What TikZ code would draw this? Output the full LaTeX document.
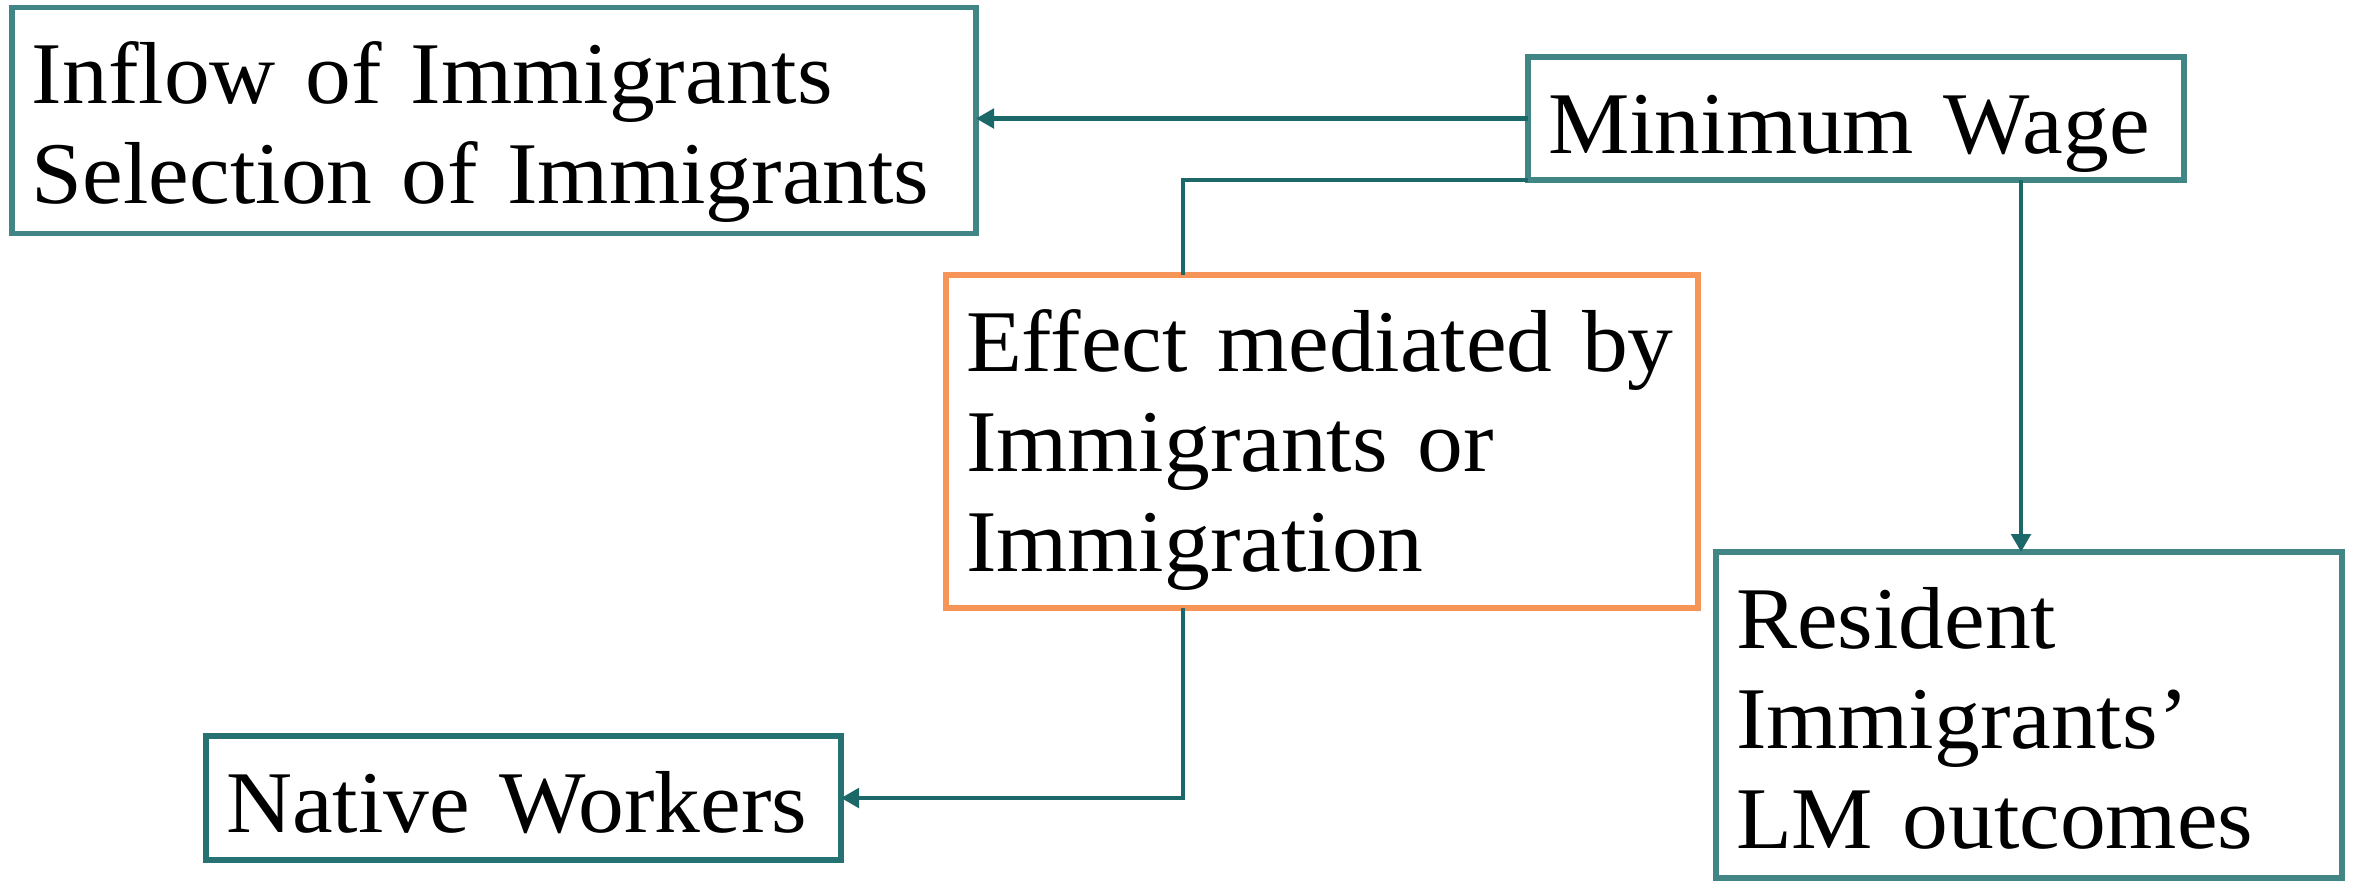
\documentclass[tikz,border=0pt]{standalone}
\usepackage{fontspec}
\setmainfont[FakeStretch=1.04]{Liberation Serif}
\usetikzlibrary{positioning}
\usetikzlibrary{calc}
\usetikzlibrary{arrows.meta}

\definecolor{boxteal}{RGB}{66,133,133}
\definecolor{darkteal}{RGB}{38,114,114}
\definecolor{linkteal}{RGB}{28,104,104}
\definecolor{medorange}{RGB}{247,148,88}

\begin{document}
\begin{tikzpicture}[x=0.25pt, y=-0.25pt,
        box/.style={draw=boxteal, line width=1.3pt, anchor=base west, align=left, outer sep=0pt,
            inner xsep=5pt, inner ysep=0pt, text height=24pt, font=\fontsize{22}{25}\selectfont},
        link/.style={draw=linkteal, line width=1.2pt},
        arr/.style={link, -{Triangle[length=4.5pt,width=4.8pt]}}]
            \useasboundingbox (0,0) rectangle (2354,881);

            \node[box, text width=231pt, text depth=32.4pt] (inflow) at (12,103.5) {Inflow of Immigrants\\Selection of Immigrants};
            \node[box, text width=154pt, text depth=6.75pt] (mw) at (1528,153) {Minimum Wage};
            \node[box, draw=medorange, text width=178pt, text depth=59.25pt] (med) at (946,371) {Effect mediated by\\Immigrants or\\Immigration};
            \node[box, draw=darkteal, text width=148.75pt, text depth=7pt] (native) at (206,832) {Native Workers};
            \node[box, text width=146.5pt, text depth=57.5pt] (res) at (1716,648) {Resident\\Immigrants’\\LM outcomes};

            \coordinate (tap) at ([xshift=59.25pt]med.north west);
            \draw[arr] (mw.west) -- (mw.west -| inflow.east);
            \draw[link] (mw.south west) -| (tap);
            \draw[arr] (tap |- med.south) |- (native.east);
            \draw[arr] ([xshift=-2pt]mw.south -| res.north) -- ([xshift=-2pt]res.north);
        \end{tikzpicture}
\end{document}
